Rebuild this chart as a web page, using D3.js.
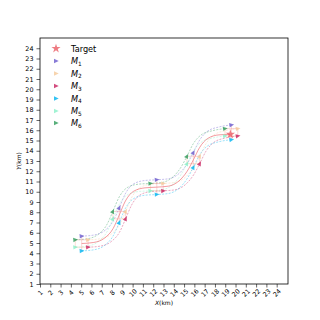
<!DOCTYPE html>
<html>
<head>
<meta charset="utf-8">
<script src="https://cdn.jsdelivr.net/npm/d3@7"></script>
<style>
  body { margin: 0; background: #fff; }
  svg { display: block; font-family: "DejaVu Sans", sans-serif; }
</style>
</head>
<body>
<svg id="chart" width="320" height="320"></svg>
<script>
// tick labels
var xTicks = [1,2,3,4,5,6,7,8,9,10,11,12,13,14,15,16,17,18,19,20,21,22,23,24];
var yTicks = [1,2,3,4,5,6,7,8,9,10,11,12,13,14,15,16,17,18,19,20,21,22,23,24];

// target position
var target = [19.5, 15.6];

// reference (red) path
var centerX = [5.05, 6.2, 7.3, 8.1, 8.7, 9.3, 10.1, 11.2, 12.35, 13.5, 14.5, 15.3, 15.9, 16.5, 17.3, 18.4, 19.5];
var centerY = [4.95, 5.05, 5.5, 6.4, 7.72, 9.1, 10.05, 10.38, 10.45, 10.55, 11.05, 12.0, 13.1, 14.3, 15.2, 15.55, 15.6];

// agent paths
var m1X = [5.05, 6.2, 7.3, 8.1, 8.7, 9.3, 10.1, 11.2, 12.35, 13.5, 14.5, 15.3, 15.9, 16.5, 17.3, 18.4, 19.6];
var m1Y = [5.67, 5.77, 6.22, 7.12, 8.44, 9.82, 10.77, 11.1, 11.17, 11.27, 11.77, 12.72, 13.82, 15.02, 15.92, 16.32, 16.52];
var m2X = [5.67, 6.82, 7.92, 8.72, 9.32, 9.92, 10.72, 11.82, 12.97, 14.12, 15.12, 15.92, 16.52, 17.12, 17.92, 19.02, 20.22];
var m2Y = [5.31, 5.41, 5.86, 6.76, 8.08, 9.46, 10.41, 10.74, 10.81, 10.91, 11.41, 12.36, 13.46, 14.66, 15.56, 15.96, 16.16];
var m3X = [5.67, 6.82, 7.92, 8.72, 9.32, 9.92, 10.72, 11.82, 12.97, 14.12, 15.12, 15.92, 16.52, 17.12, 17.92, 19.02, 20.22];
var m3Y = [4.59, 4.69, 5.14, 6.04, 7.36, 8.74, 9.69, 10.02, 10.09, 10.19, 10.69, 11.64, 12.74, 13.94, 14.84, 15.24, 15.44];
var m4X = [5.05, 6.2, 7.3, 8.1, 8.7, 9.3, 10.1, 11.2, 12.35, 13.5, 14.5, 15.3, 15.9, 16.5, 17.3, 18.4, 19.6];
var m4Y = [4.23, 4.33, 4.78, 5.68, 7.0, 8.38, 9.33, 9.66, 9.73, 9.83, 10.33, 11.28, 12.38, 13.58, 14.48, 14.88, 15.08];
var m5X = [4.43, 5.58, 6.68, 7.48, 8.08, 8.68, 9.48, 10.58, 11.73, 12.88, 13.88, 14.68, 15.28, 15.88, 16.68, 17.78, 18.98];
var m5Y = [4.59, 4.69, 5.14, 6.04, 7.36, 8.74, 9.69, 10.02, 10.09, 10.19, 10.69, 11.64, 12.74, 13.94, 14.84, 15.24, 15.44];
var m6X = [4.43, 5.58, 6.68, 7.48, 8.08, 8.68, 9.48, 10.58, 11.73, 12.88, 13.88, 14.68, 15.28, 15.88, 16.68, 17.78, 18.98];
var m6Y = [5.31, 5.41, 5.86, 6.76, 8.08, 9.46, 10.41, 10.74, 10.81, 10.91, 11.41, 12.36, 13.46, 14.66, 15.56, 15.96, 16.16];

// snapshots where the formation is drawn
var snapIdx = [0, 4, 8, 12, 16];
// formation links (agent indices, 0-based)
var links = [[5, 1], [4, 2], [0, 3], [5, 4], [1, 2]];

var names = ["1", "2", "3", "4", "5", "6"];
var colors = ["#6a5acd", "#f5c99a", "#c8205f", "#00b4f0", "#8af0c8", "#2e9b5a"];

var agents = [[m1X, m1Y], [m2X, m2Y], [m3X, m3Y], [m4X, m4Y], [m5X, m5Y], [m6X, m6Y]];

var svg = d3.select("#chart");
svg.append("rect").attr("width", 320).attr("height", 320).attr("fill", "#fff");

var pLeft = 40, pRight = 288, pTop = 38, pBottom = 284;
var x = d3.scaleLinear().domain([1, 25.1]).range([pLeft, pRight]);
var y = d3.scaleLinear().domain([1, 25]).range([pBottom, pTop]);

// axes
var gx = svg.append("g")
  .attr("transform", "translate(0," + pBottom + ")")
  .call(d3.axisBottom(x).tickValues(xTicks).tickSize(3.5).tickSizeOuter(0));
gx.select(".domain").remove();
gx.selectAll("text")
  .attr("y", 0).attr("dy", null)
  .attr("transform", "translate(0,9) rotate(-45)")
  .attr("text-anchor", "middle")
  .attr("dominant-baseline", "central")
  .style("font-size", "6.4px")
  .style("font-family", "DejaVu Sans");
gx.selectAll("line").attr("stroke-width", 0.6);

var gy = svg.append("g")
  .attr("transform", "translate(" + pLeft + ",0)")
  .call(d3.axisLeft(y).tickValues(yTicks).tickSize(3.5).tickPadding(3).tickSizeOuter(0));
gy.select(".domain").remove();
gy.selectAll("text").style("font-size", "6.4px").style("font-family", "DejaVu Sans");
gy.selectAll("line").attr("stroke-width", 0.6);

svg.append("rect")
  .attr("x", pLeft).attr("y", pTop)
  .attr("width", pRight - pLeft).attr("height", pBottom - pTop)
  .attr("fill", "none").attr("stroke", "#000").attr("stroke-width", 0.8);

// axis labels
var xl = svg.append("text").attr("x", 164).attr("y", 305)
  .attr("text-anchor", "middle").style("font-size", "6px");
xl.append("tspan").style("font-style", "italic").text("X");
xl.append("tspan").text("(km)");
var yl = svg.append("text")
  .attr("transform", "translate(21,161) rotate(-90)")
  .attr("text-anchor", "middle").style("font-size", "6px");
yl.append("tspan").style("font-style", "italic").text("Y");
yl.append("tspan").text("(km)");

var line = d3.line()
  .x(function(d) { return x(d[0]); })
  .y(function(d) { return y(d[1]); })
  .curve(d3.curveMonotoneX);

function pts(ax, ay) { return ax.map(function(v, i) { return [v, ay[i]]; }); }

var plot = svg.append("g");

// agent paths
agents.forEach(function(a, k) {
  plot.append("path")
    .attr("d", line(pts(a[0], a[1])))
    .attr("fill", "none")
    .attr("stroke", colors[k])
    .attr("stroke-width", 0.6)
    .attr("stroke-opacity", 0.65)
    .attr("stroke-dasharray", "2,1.3");
});

// reference path
plot.append("path")
  .attr("d", line(pts(centerX, centerY)))
  .attr("fill", "none")
  .attr("stroke", "#e8404a")
  .attr("stroke-width", 0.7)
  .attr("stroke-opacity", 0.75);

// formation links at snapshots
snapIdx.forEach(function(s) {
  links.forEach(function(l, j) {
    var a = agents[l[0]], b = agents[l[1]];
    plot.append("line")
      .attr("x1", x(a[0][s])).attr("y1", y(a[1][s]))
      .attr("x2", x(b[0][s])).attr("y2", y(b[1][s]))
      .attr("stroke", j % 2 ? "#f4a582" : "#f08a8a")
      .attr("stroke-width", 0.5)
      .attr("stroke-opacity", 0.7);
  });
});

var tri = "M2.7,0L-2,2.2L-2,-2.2Z";

// markers at snapshots, oriented along the path
agents.forEach(function(a, k) {
  snapIdx.forEach(function(s) {
    var i0 = Math.max(0, s - 1), i1 = Math.min(a[0].length - 1, s + 1);
    var ang = Math.atan2(y(a[1][i1]) - y(a[1][i0]), x(a[0][i1]) - x(a[0][i0])) * 180 / Math.PI;
    plot.append("path")
      .attr("d", tri)
      .attr("transform", "translate(" + x(a[0][s]) + "," + y(a[1][s]) + ") rotate(" + ang + ")")
      .attr("fill", colors[k])
      .attr("fill-opacity", 0.8);
  });
});

// target star
plot.append("path")
  .attr("d", d3.symbol().type(d3.symbolStar).size(26)())
  .attr("transform", "translate(" + x(target[0]) + "," + y(target[1]) + ")")
  .attr("fill", "#e8505a").attr("fill-opacity", 0.75);

// legend
var lg = svg.append("g");
var rowY = [48.5, 61, 73.5, 86, 98.5, 111, 123];
lg.append("path")
  .attr("d", d3.symbol().type(d3.symbolStar).size(26)())
  .attr("transform", "translate(56," + rowY[0] + ")")
  .attr("fill", "#e8505a").attr("fill-opacity", 0.75);
lg.append("text").attr("x", 71).attr("y", rowY[0])
  .attr("dominant-baseline", "central").style("font-size", "8.2px").text("Target");
names.forEach(function(n, k) {
  var ry = rowY[k + 1];
  lg.append("path").attr("d", tri)
    .attr("transform", "translate(56," + ry + ")")
    .attr("fill", colors[k]).attr("fill-opacity", 0.8);
  var t = lg.append("text").attr("x", 71).attr("y", ry + 3)
    .style("font-size", "8.2px");
  t.append("tspan").style("font-style", "italic").text("M");
  t.append("tspan").attr("dy", 1.8).style("font-size", "5.8px").text(n);
});
</script>
</body>
</html>
